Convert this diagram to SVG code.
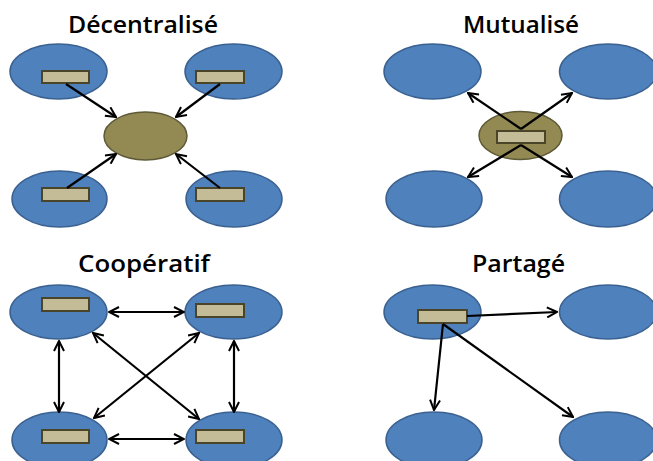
<svg xmlns="http://www.w3.org/2000/svg" width="653" height="461" viewBox="0 0 653 461">
<defs>
<marker id="ah" viewBox="0 0 12 12" refX="11" refY="6" markerWidth="12" markerHeight="12" markerUnits="userSpaceOnUse" orient="auto-start-reverse">
<path d="M1,1 L11,6 L1,11" fill="none" stroke="#000" stroke-width="2"/>
</marker>
<style>
.title{font-family:"Open Sans","DejaVu Sans",sans-serif;font-weight:600;font-size:23.5px;fill:#000}
.b{fill:#4F81BD;stroke:#3A6190;stroke-width:1.5}
.o{fill:#938953;stroke:#5E5A37;stroke-width:1.5}
.r{fill:#C4BC96;stroke:#4A4428;stroke-width:2}
.c{stroke:#000;stroke-width:2.2;fill:none;marker-end:url(#ah)}
.d{stroke:#000;stroke-width:2.2;fill:none;marker-end:url(#ah);marker-start:url(#ah)}
</style>
</defs>
<rect width="653" height="461" fill="#fff"/>

<g id="titles">
<text class="title" x="68" y="33" textLength="150" lengthAdjust="spacingAndGlyphs">Décentralisé</text>
<text class="title" x="463" y="33" textLength="116" lengthAdjust="spacingAndGlyphs">Mutualisé</text>
<text class="title" x="78" y="272" textLength="132" lengthAdjust="spacingAndGlyphs">Coopératif</text>
<text class="title" x="472" y="272" textLength="93" lengthAdjust="spacingAndGlyphs">Partagé</text>
</g>

<!-- Décentralisé -->
<g id="dec-tl"><ellipse class="b" cx="58.5" cy="71.5" rx="48.5" ry="27.5"/><rect class="r" x="42" y="71" width="47" height="12"/></g>
<g id="dec-tr"><ellipse class="b" cx="233.5" cy="71.5" rx="48.5" ry="27.5"/><rect class="r" x="196" y="71" width="48" height="12"/></g>
<g id="dec-bl"><ellipse class="b" cx="59.5" cy="199" rx="47.5" ry="28"/><rect class="r" x="42" y="188" width="47" height="13"/></g>
<g id="dec-br"><ellipse class="b" cx="234" cy="199" rx="48" ry="28"/><rect class="r" x="196" y="188" width="48" height="13"/></g>
<g id="dec-c"><ellipse class="o" cx="145.5" cy="136" rx="41.5" ry="24"/></g>

<!-- Mutualisé -->
<g id="mut-tl"><ellipse class="b" cx="432.5" cy="71.5" rx="48.5" ry="27.5"/></g>
<g id="mut-tr"><ellipse class="b" cx="608" cy="71.5" rx="48.5" ry="27.5"/></g>
<g id="mut-bl"><ellipse class="b" cx="434" cy="199" rx="48" ry="28"/></g>
<g id="mut-br"><ellipse class="b" cx="608" cy="199" rx="48.5" ry="28"/></g>
<g id="mut-c"><ellipse class="o" cx="520.5" cy="135.5" rx="41.5" ry="24"/><rect class="r" x="497" y="131" width="48" height="12"/></g>

<!-- Coopératif -->
<g id="coop-tl"><ellipse class="b" cx="58.5" cy="312" rx="48.5" ry="27"/><rect class="r" x="42" y="298" width="47" height="13"/></g>
<g id="coop-tr"><ellipse class="b" cx="233.5" cy="312" rx="48.5" ry="27"/><rect class="r" x="196" y="304" width="48" height="13"/></g>
<g id="coop-bl"><ellipse class="b" cx="59.5" cy="440" rx="47.5" ry="28"/><rect class="r" x="42" y="430" width="47" height="13"/></g>
<g id="coop-br"><ellipse class="b" cx="234" cy="440" rx="48" ry="28"/><rect class="r" x="196" y="430" width="48" height="13"/></g>

<!-- Partagé -->
<g id="part-tl"><ellipse class="b" cx="432.5" cy="312" rx="48.5" ry="27"/><rect class="r" x="418" y="310" width="49" height="13"/></g>
<g id="part-tr"><ellipse class="b" cx="608" cy="312" rx="48.5" ry="27"/></g>
<g id="part-bl"><ellipse class="b" cx="434" cy="440" rx="48" ry="28"/></g>
<g id="part-br"><ellipse class="b" cx="608" cy="440" rx="48.5" ry="28"/></g>

<g id="connectors">
<line class="c" x1="66" y1="84" x2="116" y2="117"/>
<line class="c" x1="220" y1="84" x2="176" y2="117"/>
<line class="c" x1="67" y1="188" x2="116" y2="154"/>
<line class="c" x1="220" y1="188" x2="176" y2="154"/>

<line class="c" x1="521" y1="129" x2="468" y2="93"/>
<line class="c" x1="521" y1="129" x2="572" y2="93"/>
<line class="c" x1="521" y1="145" x2="468" y2="177"/>
<line class="c" x1="521" y1="145" x2="572" y2="177"/>

<line class="d" x1="109" y1="312" x2="184" y2="312"/>
<line class="d" x1="109" y1="439" x2="184" y2="439"/>
<line class="d" x1="59" y1="341" x2="59" y2="412"/>
<line class="d" x1="234" y1="341" x2="234" y2="412"/>
<line class="d" x1="93" y1="333" x2="199" y2="419"/>
<line class="d" x1="199" y1="333" x2="94" y2="418"/>

<line class="c" x1="467" y1="316" x2="557" y2="312"/>
<line class="c" x1="443" y1="324" x2="434" y2="410"/>
<line class="c" x1="443" y1="324" x2="573" y2="417"/>
</g>
</svg>
